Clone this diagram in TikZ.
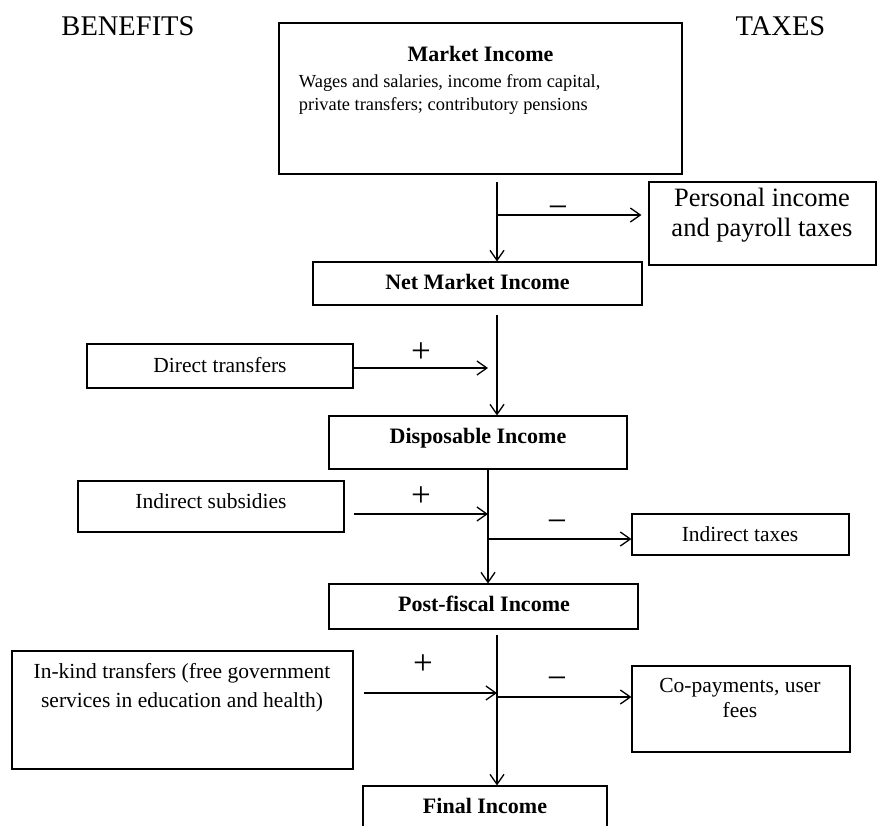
\documentclass[tikz,border=0pt]{standalone}
\usepackage{fontspec}
\setmainfont{Liberation Serif}
\usetikzlibrary{arrows.meta,positioning,calc}
\tikzset{every picture/.style={line width=1.2pt}}

\begin{document}
\begin{tikzpicture}[x=1pt,y=-1pt,
    box/.style={draw,line width=1.1pt,inner sep=0pt},
    flow/.style={line width=1.3pt,-{Straight Barb[length=10pt,width=14pt]}},
    hdr/.style={font=\fontsize{22}{26}\selectfont\bfseries,anchor=base},
    txt/.style={font=\fontsize{21.5}{29}\selectfont,anchor=base,align=center},
    head/.style={font=\fontsize{28.5}{30}\selectfont,anchor=base},
    sgn/.style={font=\fontsize{35}{35}\selectfont,anchor=base}]
    \useasboundingbox (0,0) rectangle (877,825);
    \clip (0,0) rectangle (877,825);

    % Column headings
    \node[head] (benefits) at (128,35) {BENEFITS};
    \node[head] (taxes) at (780.5,35) {TAXES};

    % Market income (multi-line texts sit on their last baseline)
    \node[box,minimum width=403pt,minimum height=151pt] (market) at (480.5,98.5) {};
    \node[hdr] (markettitle) at (480.5,61) {Market Income};
    \node[font=\fontsize{18.4}{23}\selectfont,anchor=base west,align=left] (markettext) at (295,110)
        {Wages and salaries, income from capital,\\private transfers; contributory pensions};

    % Personal income and payroll taxes
    \node[box,minimum width=227pt,minimum height=83pt] (ptax) at (762.5,223.5) {};
    \node[txt,font=\fontsize{26.5}{30}\selectfont] (ptaxtext) at (762,236) {Personal income\\and payroll taxes};

    % Net market income
    \node[box,minimum width=329pt,minimum height=43pt] (netmkt) at (477.5,283.5) {};
    \node[hdr] (nettext) at (477.5,289) {Net Market Income};

    % Direct transfers
    \node[box,minimum width=266pt,minimum height=44pt] (direct) at (220,366) {};
    \node[txt] (directtext) at (220,372) {Direct transfers};

    % Disposable income
    \node[box,minimum width=298pt,minimum height=53pt] (disp) at (478,442.5) {};
    \node[hdr] (disptext) at (478,443) {Disposable Income};

    % Indirect subsidies
    \node[box,minimum width=266pt,minimum height=51pt] (subs) at (211,506.5) {};
    \node[txt] (substext) at (211,508) {Indirect subsidies};

    % Indirect taxes
    \node[box,minimum width=217pt,minimum height=41pt] (itax) at (740.5,534.5) {};
    \node[txt] (itaxtext) at (740,541) {Indirect taxes};

    % Post-fiscal income
    \node[box,minimum width=309pt,minimum height=45pt] (post) at (483.5,606.5) {};
    \node[hdr] (posttext) at (484,611) {Post-fiscal Income};

    % In-kind transfers
    \node[box,minimum width=341pt,minimum height=118pt] (inkind) at (182.5,710) {};
    \node[txt] (inkindtext) at (182,707) {In-kind transfers (free government\\services in education and health)};

    % Co-payments
    \node[box,minimum width=218pt,minimum height=86pt] (copay) at (741,709) {};
    \node[txt,font=\fontsize{21.5}{25}\selectfont] (copaytext) at (740,717) {Co-payments, user\\fees};

    % Final income
    \node[box,minimum width=244pt,minimum height=54pt] (final) at (485,813) {};
    \node[hdr] (finaltext) at (485,813) {Final Income};

    % Spine points
    \coordinate (a1) at (497,182);
    \coordinate (b1) at (497,215);
    \coordinate (a2) at (497,315);
    \coordinate (d2) at (488,368);
    \coordinate (a3) at (488,469);
    \coordinate (c3) at (488,514);
    \coordinate (t3) at (488,539);
    \coordinate (a4) at (497,635);
    \coordinate (c4) at (497,693);
    \coordinate (t4) at (497,697);

    % Connectors
    \draw[flow] (a1) -- (a1 |- netmkt.north);
    \draw[flow,shorten >=7pt] (b1) -- (b1 -| ptax.west);
    \draw[flow] (a2) -- (a2 |- disp.north);
    \draw[flow] (direct.east |- d2) -- (d2);
    \draw[flow] (a3) -- (a3 |- post.north);
    \draw[flow,shorten <=9pt] (subs.east |- c3) -- (c3);
    \draw[flow] (t3) -- (t3 -| itax.west);
    \draw[flow] (a4) -- (a4 |- final.north);
    \draw[flow,shorten <=10pt] (inkind.east |- c4) -- (c4);
    \draw[flow] (t4) -- (t4 -| copay.west);

    % Signs
    \node[sgn] (minus1) at (558,218) {−};
    \node[sgn] (plus1) at (421,362) {+};
    \node[sgn] (plus2) at (421,506) {+};
    \node[sgn] (minus2) at (557,532) {−};
    \node[sgn] (plus3) at (423,674) {+};
    \node[sgn] (minus3) at (557,689) {−};
\end{tikzpicture}
\end{document}
